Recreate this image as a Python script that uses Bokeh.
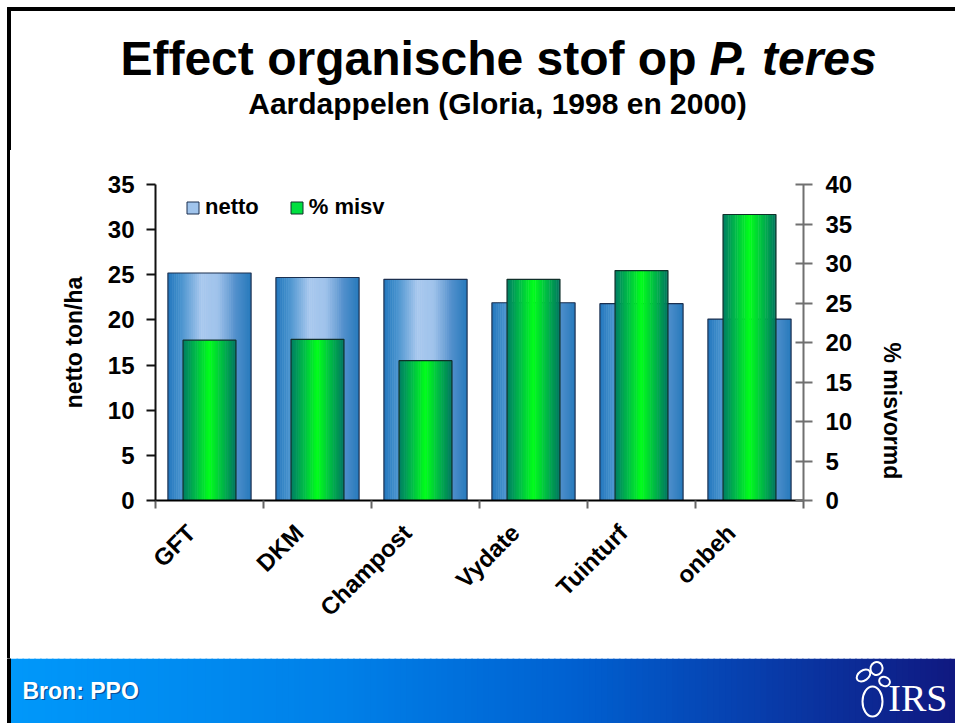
import math
from bokeh.plotting import figure
from bokeh.models import Range1d, LinearAxis, FixedTicker, Legend, LegendItem, ColumnDataSource
from bokeh.layouts import column, row
from bokeh.embed import file_html
from bokeh.resources import INLINE
from bokeh.core.properties import value

# ---------------- data ----------------
categories = ["GFT", "DKM", "Champost", "Vydate", "Tuinturf", "onbeh"]
netto = [25.2, 24.7, 24.5, 21.9, 21.8, 20.1]          # netto ton/ha (left axis)
misv = [20.3, 20.4, 17.7, 28.0, 29.1, 36.2]           # % misvormd (right axis)
left_ticks = [0, 5, 10, 15, 20, 25, 30, 35]
right_ticks = [0, 5, 10, 15, 20, 25, 30, 35, 40]
legend_labels = ["netto", "% misv"]
y_left_label = "netto ton/ha"
y_right_label = "% misvormd"
title_main = "Effect organische stof op"
title_species = "P. teres"
subtitle = "Aardappelen (Gloria, 1998 en 2000)"
source_note = "Bron: PPO"
logo_text = "IRS"

FONT = "Liberation Sans"
W, H = 955, 723

BLUE_STOPS = [(0.0, (35, 120, 190)), (0.15, (70, 145, 205)), (0.4, (168, 200, 238)),
              (0.6, (160, 195, 235)), (0.8, (85, 145, 205)), (1.0, (38, 122, 188))]
GREEN_STOPS = [(0.0, (0, 125, 100)), (0.25, (0, 190, 70)), (0.5, (0, 255, 25)),
               (0.75, (0, 185, 70)), (1.0, (0, 118, 95))]
FOOT_STOPS = [(0.0, (0, 152, 250)), (0.35, (0, 128, 232)), (0.6, (0, 96, 208)),
              (0.8, (8, 60, 170)), (1.0, (16, 24, 128))]


def interp(stops, t):
    for (t0, c0), (t1, c1) in zip(stops, stops[1:]):
        if t0 <= t <= t1:
            f = (t - t0) / (t1 - t0) if t1 > t0 else 0.0
            return "#%02x%02x%02x" % tuple(int(round(a + (b - a) * f)) for a, b in zip(c0, c1))
    return "#%02x%02x%02x" % stops[-1][1]


def strip_source(values, width, stops, n):
    d = dict(left=[], right=[], top=[], bottom=[], color=[])
    for i, v in enumerate(values):
        x0 = i + 0.5 - width / 2
        step = width / n
        for k in range(n):
            l = x0 + k * step
            r = l + step * (1.25 if k < n - 1 else 1.0)
            d["left"].append(l)
            d["right"].append(r)
            d["top"].append(v)
            d["bottom"].append(0)
            d["color"].append(interp(stops, (k + 0.5) / n))
    return ColumnDataSource(d)


def bare(width, height):
    fig = figure(width=width, height=height, x_range=Range1d(0, width), y_range=Range1d(0, height),
                 output_backend="svg", toolbar_location=None, min_border=0,
                 x_axis_type=None, y_axis_type=None)
    fig.outline_line_color = None
    fig.grid.visible = False
    fig.background_fill_color = "white"
    fig.border_fill_color = "white"
    return fig


# ---------------- header ----------------
hdr_h = 150
h = bare(W, hdr_h)
h.quad(left=[7], right=[W], top=[hdr_h - 7], bottom=[hdr_h - 10], color="black")
h.quad(left=[7], right=[10], top=[hdr_h - 7], bottom=[0], color="black")
h.text(x=[696], y=[92], text=[title_main], text_align="right", text_baseline="alphabetic",
       text_font=value(FONT), text_font_style="bold", text_font_size="48px", text_color="black")
h.text(x=[709], y=[92], text=[title_species], text_align="left", text_baseline="alphabetic",
       text_font=value(FONT), text_font_style="bold italic", text_font_size="48px", text_color="black")
h.text(x=[497], y=[47], text=[subtitle], text_align="center", text_baseline="alphabetic",
       text_font=value(FONT), text_font_style="bold", text_font_size="30px", text_color="black")

# ---------------- main chart ----------------
main_h = 508
p = figure(width=W, height=main_h, x_range=Range1d(0, 6), y_range=Range1d(0, 35),
           output_backend="svg", toolbar_location=None,
           min_border_left=155, min_border_right=152, min_border_top=34, min_border_bottom=158)
p.extra_y_ranges = {"pct": Range1d(0, 40)}
p.xgrid.visible = False
p.ygrid.visible = False
p.outline_line_color = None
p.background_fill_color = "white"
p.border_fill_alpha = 0
p.styles = {"background": "linear-gradient(to right, #ffffff 0px, #ffffff 7px, #000000 7px, "
                          "#000000 10px, #ffffff 10px, #ffffff 100%)"}

xc = [i + 0.5 for i in range(len(categories))]
blue_w, green_w = 0.77, 0.49
p.quad(left="left", right="right", top="top", bottom="bottom",
       source=strip_source(netto, blue_w, BLUE_STOPS, 40), fill_color="color", line_color=None)
p.vbar(x=xc, top=netto, width=blue_w, bottom=0, fill_alpha=0, line_color="#1b2f4f", line_width=1.2)
p.quad(left="left", right="right", top="top", bottom="bottom",
       source=strip_source(misv, green_w, GREEN_STOPS, 30), fill_color="color", line_color=None,
       y_range_name="pct")
p.vbar(x=xc, top=misv, width=green_w, bottom=0, fill_alpha=0, line_color="#10302a",
       line_width=1.2, y_range_name="pct")


def style_y(ax, line_color):
    ax.axis_line_color = line_color
    ax.axis_line_width = 2
    ax.major_tick_line_color = line_color
    ax.major_tick_line_width = 2
    ax.minor_tick_line_color = None
    ax.major_label_text_font = FONT
    ax.major_label_text_font_style = "bold"
    ax.major_label_text_font_size = "24px"
    ax.major_label_text_color = "black"
    ax.axis_label_text_font = FONT
    ax.axis_label_text_font_style = "bold"
    ax.axis_label_text_font_size = "23px"
    ax.axis_label_text_color = "black"


ya = p.yaxis[0]
ya.ticker = FixedTicker(ticks=left_ticks)
ya.axis_label = y_left_label
style_y(ya, "#111111")
ya.major_tick_out = 9
ya.major_tick_in = 0
ya.major_label_standoff = 12
ya.axis_label_standoff = 18

ra = LinearAxis(y_range_name="pct", ticker=FixedTicker(ticks=right_ticks), axis_label=y_right_label)
style_y(ra, "#707070")
ra.major_tick_out = 9
ra.major_tick_in = 8
ra.major_label_standoff = 13
ra.axis_label_standoff = 37
if "axis_label_orientation" in ra.properties():
    ra.axis_label_orientation = -math.pi / 2
p.add_layout(ra, "right")

# bottom axis: labels near category centres, tick marks at category boundaries
shift = -0.17
label_pos = [c + shift for c in xc]
xa = p.xaxis[0]
xa.ticker = FixedTicker(ticks=label_pos, minor_ticks=list(range(len(categories) + 1)))
xa.major_label_overrides = {pos: name for pos, name in zip(label_pos, categories)}
xa.major_label_orientation = math.pi / 4
xa.major_tick_in = 0
xa.major_tick_out = 0
xa.minor_tick_in = 0
xa.minor_tick_out = 8
xa.minor_tick_line_color = "#666666"
xa.minor_tick_line_width = 2
xa.axis_line_color = "black"
xa.axis_line_width = 2
xa.major_label_standoff = 20
xa.major_label_text_font = FONT
xa.major_label_text_font_style = "bold"
xa.major_label_text_font_size = "24px"
xa.major_label_text_color = "black"

# legend (swatches only; NaN rows are never drawn in the plot)
nan = float("nan")
r1 = p.vbar(x=[nan], top=[nan], width=0.5, fill_color="#a0c4ec", line_color="#1b2f4f")
r2 = p.vbar(x=[nan], top=[nan], width=0.5, fill_color="#00e040", line_color="#10302a")
leg = Legend(items=[LegendItem(label=legend_labels[0], renderers=[r1]),
                    LegendItem(label=legend_labels[1], renderers=[r2])],
             location=(30, 280), orientation="horizontal")
leg.glyph_width = 15
leg.glyph_height = 15
leg.label_standoff = 5
leg.spacing = 30
leg.padding = 0
leg.margin = 0
leg.background_fill_alpha = 0
leg.border_line_alpha = 0
leg.label_text_font = FONT
leg.label_text_font_style = "bold"
leg.label_text_font_size = "22px"
leg.label_text_color = "black"
p.add_layout(leg)

# ---------------- footer ----------------
ft_h = H - hdr_h - main_h
f = bare(W, ft_h)
n_f = 160
fs = dict(left=[], right=[], color=[])
for k in range(n_f):
    l = 10 + (W - 10) * k / n_f
    r = 10 + (W - 10) * (k + 1.3) / n_f
    fs["left"].append(l)
    fs["right"].append(min(r, W))
    fs["color"].append(interp(FOOT_STOPS, (k + 0.5) / n_f))
f.quad(left="left", right="right", top=ft_h, bottom=0, fill_color="color", line_color=None,
       source=ColumnDataSource(fs))
f.quad(left=[7], right=[10], top=[ft_h], bottom=[0], color="black")
f.text(x=[23.5], y=[31.5], text=[source_note], text_font=value(FONT), text_font_style="bold",
       text_font_size="23px", text_color="#0a2a60", text_alpha=0.6, text_baseline="alphabetic")
f.text(x=[22], y=[33], text=[source_note], text_font=value(FONT), text_font_style="bold",
       text_font_size="23px", text_color="white", text_baseline="alphabetic")
f.text(x=[947], y=[26], text=[logo_text], text_font=value("Liberation Serif"), text_font_size="38px",
       text_color="white", text_align="right", text_baseline="alphabetic")
f.ellipse(x=[872], y=[22], width=20, height=30, fill_color=None, line_color="white", line_width=2)
f.ellipse(x=[863, 876, 884], y=[48, 55, 42], width=[15, 12, 11], height=[10, 13, 9],
          angle=[0.6, -0.3, -0.4], fill_color=None, line_color="white", line_width=2)

layout = column(h, row(p), f)
open("out.html", "w").write(file_html(layout, INLINE))
